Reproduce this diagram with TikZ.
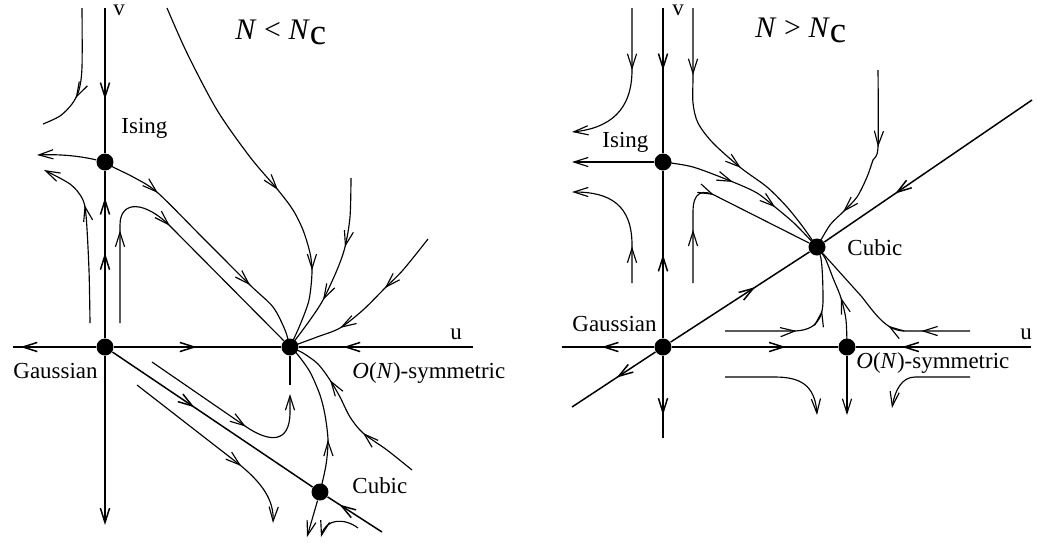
\documentclass[tikz,border=0pt]{standalone}
\usepackage{fontspec}
\setmainfont{Liberation Serif}
\usetikzlibrary{arrows.meta,decorations.markings}
\newcommand{\critN}{\textit{N}\raisebox{-2.2pt}{\fontsize{16}{16}\selectfont c}}
\tikzset{
  flow/.style={line width=0.5pt},
  axis/.style={line width=0.65pt},
  fp/.style={circle,fill=black,inner sep=0pt,minimum size=0.26cm},
  lbl/.style={inner sep=0pt,anchor=base west},
  ttl/.style={lbl,font=\fontsize{13}{15}\selectfont},
  mk/.style={postaction={decorate,decoration={markings,
      mark=at position #1 with {\arrow{>}}}}}, % arrow inside a flow line
  >={Straight Barb[length=2.2mm,width=1.4mm]},
}
\begin{document}
\begin{tikzpicture}[x=0.0153cm,y=-0.0153cm]
  \useasboundingbox (0,0) rectangle (1037,542);
  % fixed points
  \foreach \n/\x/\y in {gL/105/347,iL/105/162,oL/290/347,cL/320/492,
                        gR/663/347,iR/663/162,oR/847/347,cR/817/247}
    \node[fp] (\n) at (\x,\y) {};

  % ---- left panel: N < N_c ----
  \draw[axis,mk=0.63] (105,8) -- (iL);
  \draw[axis,mk=0.51,mk=0.84] (gL) -- (iL);
  \draw[axis,->] (gL) -- (105,525);
  \draw[axis,mk=0.91] (gL) -- (13,347);
  \draw[axis,mk=0.495] (gL) -- (oL);
  \draw[axis,mk=0.745] (473,347) -- (oL);
  \draw[axis,mk=0.41] (gL) -- (cL);
  \draw[axis,mk=0.78] (382,532) -- (cL);
  % flow lines
  \draw[flow,mk=0.68] plot[smooth] coordinates {(82,8) (82,67) (79,90) (72,104) (60,116) (43,124)};
  \draw[flow,->] (iL) .. controls (80,156) and (60,154) .. (37,155);
  \draw[flow,mk=0.68,->] plot[smooth] coordinates {(90,323) (89,270) (86,215) (82,198) (70,184) (44,170)};
  \draw[flow,mk=0.283,mk=0.506] (120,323) -- (120,225) .. controls (120,200) and (145,200) .. (172,228) -- (oL);
  \draw[flow,mk=0.23,mk=0.718] plot[smooth] coordinates {(iL) (113,167) (135,178) (158,193) (204,239) (250,285) (273,307) (285,330) (oL)};
  \draw[flow,mk=0.558,mk=0.79] plot[smooth] coordinates {(167,8) (187,53) (217,110) (250,157) (278,190) (293,210)
    (303,230) (310,253) (312,272) (309,300) (300,325) (oL)};
  \draw[flow,mk=0.377,mk=0.688] plot[smooth] coordinates {(351,178) (350,217) (345,247) (337,270) (323,300) (310,320) (oL)};
  \draw[flow,mk=0.365,mk=0.70] plot[smooth] coordinates {(428,239) (403,270) (385,288) (363,310) (340,328) (317,337) (oL)};
  \draw[flow,mk=0.347,mk=0.70] plot[smooth] coordinates {(412,470) (387,450) (363,433) (350,417) (340,397) (330,380)
    (318,364) (303,353) (oL)};
  \draw[flow,mk=0.34] plot[smooth] coordinates {(cL) (326,465) (328,440) (325,415) (320,395) (310,372) (298,355) (oL)};
  \draw[flow] (oL) -- (290,385);
  \draw[flow,mk=0.58,->] (152,362) -- (245,426) .. controls (268,442) and (290,445) .. (290,412) -- (290,394);
  \draw[flow,mk=0.66,->] (137,385) -- (240,465) .. controls (262,483) and (274,500) .. (273,523);
  \draw[flow,->] (cL) -- (307,537);
  \draw[flow,->] (358,528) .. controls (345,518) and (326,518) .. (321,537);
  % labels
  \node[ttl] (tL) at (235,39) {\textit{N} < \critN};
  \node[lbl] (vL) at (113,15) {v};
  \node[lbl] (uL) at (450,339) {u};
  \node[lbl] (isingL) at (121,133) {Ising};
  \node[lbl] (gaussL) at (13,378) {Gaussian};
  \node[lbl] (onL) at (352,378) {\textit{O}(\textit{N})-symmetric};
  \node[lbl] (cubL) at (352,493) {Cubic};

  % ---- right panel: N > N_c ----
  \draw[axis,mk=0.43] (663,8) -- (iR);
  \draw[axis,mk=0.5] (gR) -- (iR);
  \draw[axis,mk=0.72] (gR) -- (663,438);
  \draw[axis,mk=0.57] (gR) -- (562,347);
  \draw[axis,mk=0.686] (gR) -- (oR);
  \draw[axis,mk=0.737] (1031,347) -- (oR);
  \draw[axis,mk=0.465] (gR) -- (572,407);
  \draw[axis,mk=0.61] (gR) -- (cR);
  \draw[axis,mk=0.66] (1032,100) -- (cR);
  % flow lines
  \draw[flow,mk=0.39,->] (632,8) -- (632,70) .. controls (632,110) and (610,128) .. (572,132);
  \draw[flow,->] (iR) -- (572,162);
  \draw[flow,mk=0.28,->] (632,283) -- (632,245) .. controls (632,205) and (610,192) .. (572,192);
  \draw[flow,mk=0.25,mk=0.5] (693,283) -- (693,212) .. controls (693,192) and (702,188) .. (718,197) -- (cR);
  \draw[flow,mk=0.405,mk=0.68] plot[smooth] coordinates {(iR) (693,167) (733,182) (757,193) (775,207) (795,224) (cR)};
  \draw[flow,mk=0.232,mk=0.617] plot[smooth] coordinates {(693,8) (693,75) (693,103) (698,123) (713,143) (741,168)
    (767,187) (787,207) (803,227) (cR)};
  \draw[flow,mk=0.393,mk=0.775] plot[smooth] coordinates {(878,70) (878,147) (873,160) (867,177) (857,197) (843,212)
    (830,225) (cR)};
  \draw[flow,mk=0.44,mk=0.66] (725,331) -- (795,331) .. controls (815,330) and (823,320) .. (823,300)
    .. controls (823,280) and (822,260) .. (cR);
  \draw[flow,mk=0.47] plot[smooth] coordinates {(oR) (846,320) (841,298) (833,278) (825,258) (cR)};
  \draw[flow,mk=0.27,mk=0.46] (970,331) -- (905,331) .. controls (888,331) and (878,318) .. (862,297) -- (cR);
  \draw[flow,->] (725,377) -- (775,377) .. controls (800,377) and (815,385) .. (817,415);
  \draw[flow,->] (oR) -- (847,415);
  \draw[flow,->] (970,377) -- (915,377) .. controls (902,377) and (895,390) .. (892,408);
  % labels
  \node[ttl] (tR) at (755,37) {\textit{N} > \critN};
  \node[lbl] (vR) at (672,15) {v};
  \node[lbl] (uR) at (1020,339) {u};
  \node[lbl] (isingR) at (602,147) {Ising};
  \node[lbl] (gaussR) at (572,331) {Gaussian};
  \node[lbl] (onR) at (856,368) {\textit{O}(\textit{N})-symmetric};
  \node[lbl] (cubR) at (847,255) {Cubic};
\end{tikzpicture}
\end{document}
